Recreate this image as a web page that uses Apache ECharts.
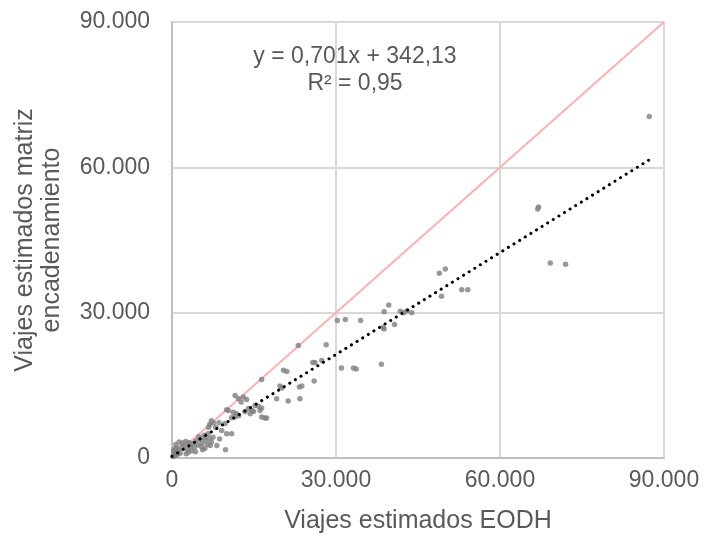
<!DOCTYPE html>
<html>
<head>
<meta charset="utf-8">
<script src="https://cdn.jsdelivr.net/npm/echarts@6/dist/echarts.min.js"></script>
<style>
    html, body { margin: 0; padding: 0; background: #fff; }
    #main { width: 704px; height: 540px; }
</style>
</head>
<body>
<div id="main"></div>
<script>
// puntos: [viajes EODH, viajes matriz encadenamiento]
var puntos = [
    [200, 300], [400, 900], [600, 500], [300, 1500], [800, 1200], [1000, 700], [500, 1900], [1200, 1600], [1500, 1000], [900, 2100],
    [1300, 3300], [1900, 3100], [2500, 3400], [3100, 3200], [2200, 2600], [2800, 1800], [3300, 2400], [3600, 1500], [3000, 1200], [4100, 2200],
    [3800, 3000], [4400, 3500], [4700, 2700], [5100, 3800], [5500, 3100], [5800, 4200], [6200, 3600], [6500, 2800], [6800, 4000], [7200, 3300],
    [5300, 2400], [6000, 2000], [7000, 2600], [7500, 4300], [5900, 4700], [6600, 5000], [8200, 2600], [9800, 1700], [8700, 3900], [4900, 4400],
    [6900, 6900], [7200, 7700], [7600, 7200], [6700, 6300], [1800, 2200], [2600, 900], [4300, 1300], [5600, 1700], [700, 2800],
    [8000, 6300], [8600, 7300], [9100, 5700], [9700, 7100], [10000, 5000], [10900, 5000],
    [10000, 9950], [10300, 9800], [11200, 9450], [11800, 9150], [11500, 8450], [12200, 8700], [10900, 8300],
    [11550, 12900], [12150, 12250], [12650, 11550], [13050, 12600], [13650, 12050],
    [13350, 9600], [14000, 10200], [14600, 9800], [15200, 10850], [14300, 9150], [14900, 9600], [15800, 10700], [16100, 9800], [16400, 10300],
    [16400, 8450], [17000, 8250], [17300, 8250],
    [16400, 16200],
    [19150, 12250], [21250, 11750], [23400, 12250],
    [19750, 14850], [20100, 14450], [23300, 14650], [23750, 14850],
    [20400, 18100], [21000, 17850],
    [23100, 23200], [28200, 23400],
    [25750, 19700], [26150, 19700], [27400, 20150],
    [26000, 15900],
    [30250, 28400], [31700, 28600], [34500, 28400],
    [38300, 19350], [31000, 18600], [33200, 18600], [33700, 18350],
    [38600, 26950], [38800, 26650], [40700, 27550],
    [38800, 30200], [39650, 31600], [41750, 30300], [42400, 30000], [43000, 30350], [43850, 30000],
    [48900, 38150], [50000, 39000], [49300, 33400],
    [53000, 34750], [54100, 34750],
    [67050, 51800], [66900, 51400],
    [69200, 40250], [72000, 40000],
    [87300, 70500]
];

// linea de tendencia lineal
var pendiente = 0.701;
var intercepto = 342.13;
var tendenciaX = [0, 87300];
var ecuacion = ['y = 0,701x + 342,13', 'R² = 0,95'];

var ticksEje = [0, 30000, 60000, 90000];

var gris = '#595959';
var fuente = 'Liberation Sans, Arial, sans-serif';

function formatoMiles(v) {
    if (v === 0) return '0';
    return (v / 1000).toFixed(3);
}

var chart = echarts.init(document.getElementById('main'));

var option = {
    backgroundColor: '#fff',
    animation: false,
    grid: { left: 172, right: 40, top: 22, bottom: 82 },
    xAxis: {
        type: 'value',
        min: ticksEje[0],
        max: ticksEje[ticksEje.length - 1],
        interval: 30000,
        name: 'Viajes estimados EODH',
        nameLocation: 'middle',
        nameGap: 51,
        nameTextStyle: { fontSize: 25, color: gris, fontFamily: fuente },
        axisLine: { lineStyle: { color: '#bfbfbf', width: 2 } },
        axisTick: { show: false },
        axisLabel: { formatter: formatoMiles, fontSize: 23, color: gris, fontFamily: fuente, margin: 11 },
        splitLine: { lineStyle: { color: '#d9d9d9', width: 2 } }
    },
    yAxis: {
        type: 'value',
        min: ticksEje[0],
        max: ticksEje[ticksEje.length - 1],
        interval: 30000,
        name: 'Viajes estimados matriz\nencadenamiento',
        nameLocation: 'middle',
        nameGap: 106,
        nameTextStyle: { fontSize: 25, color: gris, fontFamily: fuente, lineHeight: 27 },
        axisLine: { lineStyle: { color: '#bfbfbf', width: 2 } },
        axisTick: { show: false },
        axisLabel: { formatter: formatoMiles, fontSize: 23, color: gris, fontFamily: fuente, margin: 22 },
        splitLine: { lineStyle: { color: '#d9d9d9', width: 2 } }
    },
    graphic: [{
        type: 'text',
        left: 355 - 120,
        top: 43,
        style: {
            text: ecuacion.join('\n'),
            fill: gris,
            font: '23px ' + fuente,
            textAlign: 'center',
            lineHeight: 27,
            width: 240
        }
    }],
    series: [
        {
            type: 'line',
            data: [[0, 0], [90000, 90000]],
            showSymbol: false,
            silent: true,
            z: 1,
            lineStyle: { color: '#ffb0b0', width: 2 }
        },
        {
            type: 'scatter',
            data: puntos,
            symbolSize: 5.5,
            z: 2,
            itemStyle: { color: '#7f7f7f' }
        },
        {
            type: 'line',
            data: tendenciaX.map(function (x) { return [x, pendiente * x + intercepto]; }),
            showSymbol: false,
            silent: true,
            z: 3,
            lineStyle: { color: '#000', width: 3, type: [0.1, 6.5], cap: 'round' }
        }
    ]
};

chart.setOption(option);
</script>
</body>
</html>
